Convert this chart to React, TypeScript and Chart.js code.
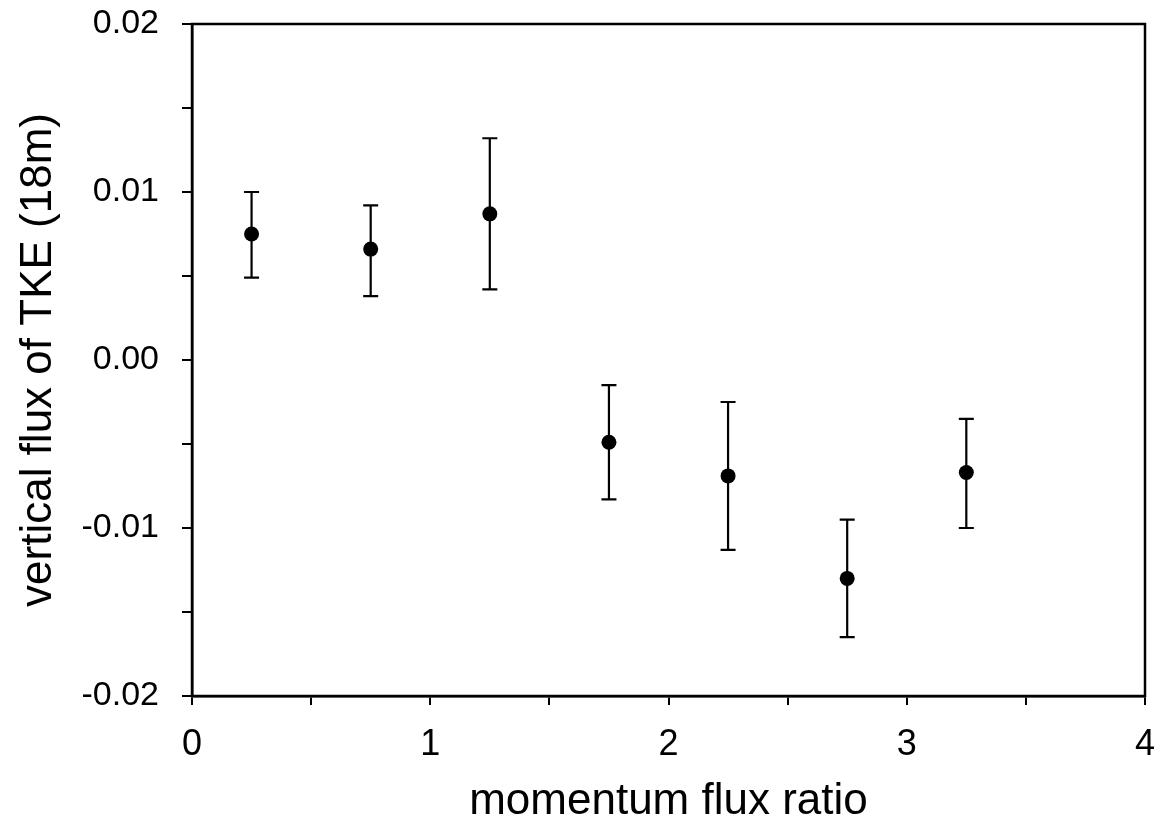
import React, { useEffect, useRef } from "react";
import { Chart, registerables } from "chart.js";

Chart.register(...registerables);

// momentum flux ratio (x) for each measurement
const xValues = [0.25, 0.75, 1.25, 1.75, 2.25, 2.75, 3.25];
// vertical flux of TKE (18m), mean values
const meanValues = [0.0075, 0.0066, 0.0087, -0.0049, -0.0069, -0.013, -0.0067];
// upper ends of the error bars
const upperValues = [0.01, 0.0092, 0.0132, -0.0015, -0.0025, -0.0095, -0.0035];
// lower ends of the error bars
const lowerValues = [0.0049, 0.0038, 0.0042, -0.0083, -0.0113, -0.0165, -0.01];

const xTitle = "momentum flux ratio";
const yTitle = "vertical flux of TKE (18m)";

const FONT = "'Liberation Sans', Arial, Helvetica, sans-serif";

const errorBarPlugin = {
  id: "errorBars",
  beforeDatasetsDraw(chart: any) {
    const { ctx, scales } = chart;
    const x = scales.x;
    const y = scales.y;
    ctx.save();
    ctx.strokeStyle = "#000";
    ctx.lineWidth = 2.2;
    xValues.forEach((xv, i) => {
      const px = x.getPixelForValue(xv);
      const pt = y.getPixelForValue(upperValues[i]);
      const pb = y.getPixelForValue(lowerValues[i]);
      ctx.beginPath();
      ctx.moveTo(px, pt);
      ctx.lineTo(px, pb);
      ctx.moveTo(px - 7.5, pt);
      ctx.lineTo(px + 7.5, pt);
      ctx.moveTo(px - 7.5, pb);
      ctx.lineTo(px + 7.5, pb);
      ctx.stroke();
    });
    ctx.restore();
  },
};

const framePlugin = {
  id: "frame",
  beforeDraw(chart: any) {
    const { ctx, width, height } = chart;
    ctx.save();
    ctx.fillStyle = "#fff";
    ctx.fillRect(0, 0, width, height);
    ctx.restore();
  },
  afterDraw(chart: any) {
    const { ctx, chartArea } = chart;
    ctx.save();
    ctx.strokeStyle = "#000";
    ctx.lineWidth = 2.5;
    ctx.strokeRect(
      chartArea.left,
      chartArea.top,
      chartArea.right - chartArea.left,
      chartArea.bottom - chartArea.top
    );
    ctx.restore();
  },
};

export default function App() {
  const canvasRef = useRef<HTMLCanvasElement | null>(null);

  useEffect(() => {
    if (!canvasRef.current) return;
    const chart = new Chart(canvasRef.current, {
      type: "scatter",
      data: {
        datasets: [
          {
            data: xValues.map((xv, i) => ({ x: xv, y: meanValues[i] })),
            backgroundColor: "#000",
            borderColor: "#000",
            borderWidth: 0,
            pointRadius: 7.5,
            showLine: false,
          },
        ],
      },
      options: {
        animation: false,
        responsive: false,
        layout: { padding: { top: 24, right: 17, left: 0, bottom: 0 } },
        plugins: {
          legend: { display: false },
          tooltip: { enabled: false },
        },
        scales: {
          x: {
            type: "linear",
            min: 0,
            max: 4,
            border: { display: true, color: "#000", width: 2.5 },
            grid: {
              drawOnChartArea: false,
              drawTicks: true,
              tickLength: 9,
              lineWidth: 2,
              color: "#000",
            },
            ticks: {
              stepSize: 0.5,
              autoSkip: false,
              maxRotation: 0,
              padding: 18,
              color: "#000",
              font: { family: FONT, size: 36 },
              callback: (v: any) => (Number.isInteger(v) ? String(v) : ""),
            },
            title: {
              display: true,
              text: xTitle,
              color: "#000",
              font: { family: FONT, size: 44 },
              padding: { top: 0, bottom: 6 },
            },
            afterFit: (scale: any) => {
              scale.height = 138;
              scale.paddingLeft = 0;
              scale.paddingRight = 0;
            },
          },
          y: {
            type: "linear",
            min: -0.02,
            max: 0.02,
            border: { display: true, color: "#000", width: 2.5 },
            grid: {
              drawOnChartArea: false,
              drawTicks: true,
              tickLength: 10,
              lineWidth: 2,
              color: "#000",
            },
            ticks: {
              stepSize: 0.005,
              autoSkip: false,
              padding: 23,
              color: "#000",
              font: { family: FONT, size: 34 },
              callback: (v: any) => {
                const k = Math.round(Number(v) * 1000);
                return k % 10 === 0 ? (k / 1000).toFixed(2) : "";
              },
            },
            title: {
              display: true,
              text: yTitle,
              color: "#000",
              font: { family: FONT, size: 44 },
              padding: { top: 12, bottom: 0 },
            },
            afterFit: (scale: any) => {
              scale.width = 192;
              scale.paddingTop = 0;
              scale.paddingBottom = 0;
            },
          },
        },
      },
      plugins: [errorBarPlugin, framePlugin],
    } as any);
    return () => chart.destroy();
  }, []);

  return (
    <div style={{ position: "absolute", left: 0, top: 0, width: 1162, height: 834, background: "#fff" }}>
      <canvas ref={canvasRef} width={1162} height={834} style={{ display: "block" }} />
    </div>
  );
}
